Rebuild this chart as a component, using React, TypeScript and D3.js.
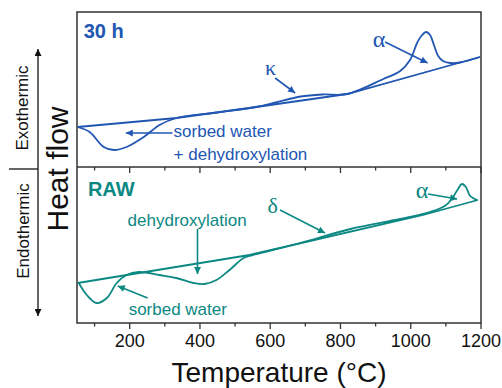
import React, { useRef, useEffect } from 'react';
import * as d3 from 'd3';

// DSC curves, temperature (°C) vs heat flow (arbitrary units)
const topDscT = [52, 86, 126, 155, 191, 240, 285, 333, 450, 560, 615, 687, 748, 819, 922, 970, 998, 1018, 1030, 1044, 1055, 1066, 1078, 1092, 1112, 1140, 1197];
const topDscV = [4.0, 3.5, 2.0, 1.7, 2.0, 3.0, 4.2, 4.9, 5.45, 6.0, 6.45, 7.05, 7.25, 7.3, 8.8, 9.6, 10.7, 12.4, 13.1, 13.5, 13.2, 12.2, 11.1, 10.6, 10.4, 10.45, 11.0];
const topBaseT = [52, 333, 560, 819, 1197];
const topBaseV = [4.0, 4.9, 6.0, 7.3, 11.0];

const rawDscT = [55, 78, 106, 135, 163, 191, 226, 285, 333, 382, 413, 447, 484, 524, 541, 686, 828, 970, 1055, 1097, 1117, 1131, 1146, 1157, 1169, 1189];
const rawDscV = [4.0, 2.8, 2.0, 2.5, 4.0, 4.8, 5.1, 4.8, 4.5, 4.0, 3.9, 4.3, 5.3, 6.5, 6.7, 8.0, 9.4, 10.4, 11.1, 11.7, 12.4, 13.2, 13.9, 13.6, 12.7, 12.3];
const rawBaseT = [52, 541, 1035, 1191];
const rawBaseV = [4.0, 6.8, 10.8, 12.3];

const majorTicks = [200, 400, 600, 800, 1000, 1200];
const minorTicks = [100, 300, 500, 700, 900, 1100];

const BLUE = '#2156b2';
const TEAL = '#0c8883';
const SANS = '"Liberation Sans", Arial, sans-serif';
const SERIF = '"Liberation Serif", "Times New Roman", serif';

// annotations in data units: text [T, v], arrows [T0, v0, T1, v1]
const topLabels = [
  { text: '30 h', t: 69, v: 12.9, size: 20, bold: true, font: SANS, anchor: 'start' },
  { text: 'κ', t: 601, v: 9.2, size: 22, bold: false, font: SERIF, anchor: 'middle' },
  { text: 'α', t: 910, v: 12.0, size: 24, bold: false, font: SERIF, anchor: 'middle' },
  { text: 'sorbed water', t: 325, v: 3.0, size: 17, bold: false, font: SANS, anchor: 'start' },
  { text: '+ dehydroxylation', t: 325, v: 0.7, size: 17, bold: false, font: SANS, anchor: 'start' },
];
const topArrows = [
  [322, 3.4, 189, 3.4],
  [614, 8.9, 671, 7.4],
  [927, 12.5, 1048, 10.4],
];
const rawLabels = [
  { text: 'RAW', t: 81, v: 12.7, size: 20, bold: true, font: SANS, anchor: 'start' },
  { text: 'dehydroxylation', t: 194, v: 9.7, size: 17, bold: false, font: SANS, anchor: 'start' },
  { text: 'sorbed water', t: 197, v: 0.8, size: 17, bold: false, font: SANS, anchor: 'start' },
  { text: 'δ', t: 607, v: 11.0, size: 22, bold: false, font: SERIF, anchor: 'middle' },
  { text: 'α', t: 1032, v: 12.5, size: 24, bold: false, font: SERIF, anchor: 'middle' },
];
const rawArrows = [
  [393, 9.4, 393, 4.9],
  [251, 2.5, 166, 3.7],
  [628, 11.3, 756, 9.0],
  [1049, 12.9, 1132, 12.4],
];

const App = () => {
  const svgRef = useRef();

  useEffect(() => {
    const W = 502, H = 388;
    const left = 77, right = 481, top = 12, mid = 167, bottom = 323;

    const svg = d3.select(svgRef.current).attr('width', W).attr('height', H);
    svg.selectAll('*').remove();

    const x = d3.scaleLinear().domain([50, 1200]).range([left, right]);
    const yTop = d3.scaleLinear().domain([0, 15.5]).range([mid, top]);
    const yRaw = d3.scaleLinear().domain([0, 15.6]).range([bottom, mid]);

    const defs = svg.append('defs');
    const addMarker = (id, color) => {
      defs.append('marker')
        .attr('id', id)
        .attr('viewBox', '0 0 10 10')
        .attr('refX', 10).attr('refY', 5)
        .attr('markerUnits', 'userSpaceOnUse')
        .attr('markerWidth', 9).attr('markerHeight', 7)
        .attr('orient', 'auto')
        .append('path')
        .attr('d', 'M0,0 L10,5 L0,10 Z')
        .attr('fill', color);
    };
    addMarker('ah-blue', BLUE);
    addMarker('ah-teal', TEAL);
    addMarker('ah-black', '#111');

    // curves
    const drawPanel = (y, dT, dV, bT, bV, color, labels, arrows, marker) => {
      const smooth = d3.line().x(d => x(d[0])).y(d => y(d[1])).curve(d3.curveCatmullRom.alpha(0.5));
      const straight = d3.line().x(d => x(d[0])).y(d => y(d[1]));
      svg.append('path')
        .datum(bT.map((t, i) => [t, bV[i]]))
        .attr('fill', 'none').attr('stroke', color).attr('stroke-width', 1.8)
        .attr('d', straight);
      svg.append('path')
        .datum(dT.map((t, i) => [t, dV[i]]))
        .attr('fill', 'none').attr('stroke', color).attr('stroke-width', 1.8)
        .attr('d', smooth);

      arrows.forEach(a => {
        svg.append('line')
          .attr('x1', x(a[0])).attr('y1', y(a[1]))
          .attr('x2', x(a[2])).attr('y2', y(a[3]))
          .attr('stroke', color).attr('stroke-width', 1.6)
          .attr('marker-end', `url(#${marker})`);
      });

      labels.forEach(l => {
        svg.append('text')
          .attr('x', x(l.t)).attr('y', y(l.v))
          .attr('text-anchor', l.anchor)
          .attr('font-family', l.font)
          .attr('font-size', l.size)
          .attr('font-weight', l.bold ? 'bold' : 'normal')
          .attr('fill', color)
          .text(l.text);
      });
    };

    drawPanel(yTop, topDscT, topDscV, topBaseT, topBaseV, BLUE, topLabels, topArrows, 'ah-blue');
    drawPanel(yRaw, rawDscT, rawDscV, rawBaseT, rawBaseV, TEAL, rawLabels, rawArrows, 'ah-teal');

    // ticks on the middle line and on the bottom axis (pointing down)
    const tickG = svg.append('g').attr('stroke', '#333').attr('stroke-width', 1.3);
    [mid, bottom].forEach(yy => {
      majorTicks.forEach(t => {
        tickG.append('line').attr('x1', x(t)).attr('x2', x(t)).attr('y1', yy).attr('y2', yy + 6);
      });
      minorTicks.forEach(t => {
        tickG.append('line').attr('x1', x(t)).attr('x2', x(t)).attr('y1', yy).attr('y2', yy + 3.5);
      });
    });

    // frame
    svg.append('rect')
      .attr('x', left).attr('y', top)
      .attr('width', right - left).attr('height', bottom - top)
      .attr('fill', 'none').attr('stroke', '#333').attr('stroke-width', 1.5);
    svg.append('line')
      .attr('x1', left).attr('x2', right).attr('y1', mid).attr('y2', mid)
      .attr('stroke', '#333').attr('stroke-width', 1.5);

    // tick labels
    svg.append('g').selectAll('text')
      .data(majorTicks)
      .join('text')
      .attr('x', d => x(d)).attr('y', 347)
      .attr('text-anchor', 'middle')
      .attr('font-family', SANS).attr('font-size', 18).attr('fill', '#111')
      .text(d => d);

    svg.append('text')
      .attr('x', (left + right) / 2).attr('y', 382)
      .attr('text-anchor', 'middle')
      .attr('font-family', SANS).attr('font-size', 28).attr('fill', '#111')
      .text('Temperature (°C)');

    // y label and exo/endo arrows
    svg.append('text')
      .attr('transform', `translate(68,${mid + 2}) rotate(-90)`)
      .attr('text-anchor', 'middle')
      .attr('font-family', SANS).attr('font-size', 30).attr('fill', '#111')
      .text('Heat flow');

    svg.append('text')
      .attr('transform', 'translate(28,108) rotate(-90)')
      .attr('text-anchor', 'middle')
      .attr('font-family', SANS).attr('font-size', 17).attr('fill', '#111')
      .text('Exothermic');
    svg.append('text')
      .attr('transform', 'translate(29,231) rotate(-90)')
      .attr('text-anchor', 'middle')
      .attr('font-family', SANS).attr('font-size', 17).attr('fill', '#111')
      .text('Endothermic');

    const ax = svg.append('g').attr('stroke', '#111').attr('stroke-width', 1.3);
    ax.append('line').attr('x1', 9).attr('x2', 38).attr('y1', 169).attr('y2', 169);
    ax.append('line').attr('x1', 38).attr('x2', 38).attr('y1', 169).attr('y2', 49)
      .attr('marker-end', 'url(#ah-black)');
    ax.append('line').attr('x1', 38).attr('x2', 38).attr('y1', 169).attr('y2', 316)
      .attr('marker-end', 'url(#ah-black)');
  }, []);

  return (
    <svg ref={svgRef} style={{ position: 'absolute', left: 0, top: 0, background: '#fff' }}></svg>
  );
};

export default App;
